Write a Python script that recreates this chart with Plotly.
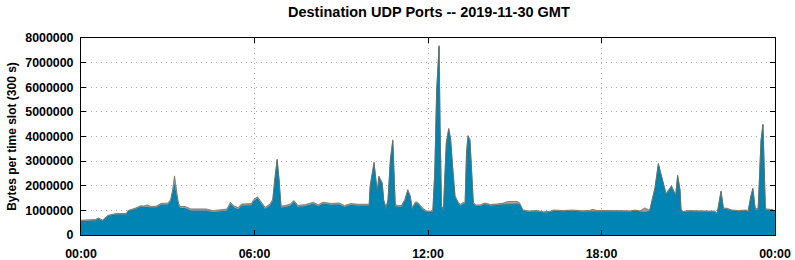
import pandas as pd
import plotly.graph_objects as go

# ---- data (bytes per 300 s slot) ----
times = ["00:00","00:30","00:36","00:45","00:56","01:06","01:12","01:34","01:38","01:54",
         "02:04","02:18","02:36","02:46","03:00","03:06","03:14","03:22","03:26","03:36",
         "03:48","04:03","04:20","04:34","04:50","05:03","05:10","05:18","05:26","05:33",
         "05:54","05:57","06:06","06:15","06:22","06:32","06:38","06:42","06:47","06:51",
         "06:55","07:05","07:14","07:22","07:30","07:45","08:02","08:12","08:22","08:40",
         "08:55","09:07","09:20","09:35","09:58","10:00","10:05","10:08","10:12","10:15",
         "10:18","10:21","10:25","10:28","10:33","10:37","10:42","10:47","10:49","10:52",
         "10:58","11:05","11:12","11:18","11:23","11:27","11:34","11:39","11:48","11:57",
         "12:10","12:14","12:18","12:23","12:25","12:28","12:32","12:35","12:38","12:43",
         "12:47","12:51","12:56","13:03","13:08","13:13","13:17","13:20","13:23","13:27",
         "13:30","13:34","13:40","13:48","13:58","14:10","14:22","14:30","15:10","15:17",
         "15:30","15:45","16:00","16:15","16:20","16:40","17:00","17:20","17:40","18:00",
         "18:20","18:40","19:00","19:10","19:20","19:30","19:40","19:51","19:58","20:04",
         "20:11","20:14","20:21","20:25","20:29","20:34","20:38","20:43","20:45","20:50",
         "21:00","21:20","21:40","21:55","22:00","22:05","22:08","22:13","22:20","22:30",
         "22:45","23:00","23:04","23:10","23:14","23:19","23:25","23:28","23:31","23:35",
         "23:38","23:40","23:50","23:57","24:00"]
main_bytes = [570000,600000,660000,580000,770000,800000,840000,840000,970000,1070000,
              1160000,1130000,1130000,1240000,1240000,1380000,2100000,1240000,1100000,1100000,
              1000000,990000,1000000,930000,980000,1000000,1270000,1120000,1050000,1200000,
              1220000,1350000,1500000,1250000,1070000,1200000,1400000,2200000,3030000,2200000,
              1120000,1150000,1200000,1350000,1150000,1180000,1280000,1170000,1280000,1230000,
              1250000,1150000,1230000,1200000,1200000,1960000,2630000,2910000,2200000,1730000,
              2350000,2250000,2080000,1400000,1060000,1400000,3050000,3820000,2800000,1180000,
              1150000,1150000,1400000,1800000,1560000,1060000,1300000,1280000,1060000,930000,
              930000,2500000,5850000,7650000,4400000,1150000,1000000,2200000,3700000,4290000,
              3850000,2750000,1550000,1280000,1200000,1280000,1270000,3330000,4000000,3850000,
              2900000,1280000,1180000,1180000,1260000,1200000,1220000,1250000,1250000,980000,
              940000,960000,910000,930000,980000,960000,980000,950000,970000,960000,
              980000,970000,950000,980000,950000,940000,970000,1900000,2880000,2400000,
              1850000,1650000,1850000,1970000,1800000,1600000,2400000,1800000,990000,930000,
              960000,950000,960000,940000,850000,1400000,1760000,1060000,1060000,990000,
              960000,990000,930000,1550000,1870000,1040000,1040000,2400000,3820000,4470000,
              2700000,1040000,1010000,990000,900000]

orange_times = ["00:00","14:35","14:45","15:05","15:12","17:35","17:42","17:50","24:00"]
orange_bytes = [0,0,40000,60000,0,0,40000,0,0]

green_times = ["00:00","14:35","14:45","15:00","15:10","24:00"]
green_bytes = [0,0,30000,20000,0,0]

other_times = ["00:00","02:10","02:18","02:25","03:10","03:14","03:18","19:20","19:30","19:40","24:00"]
other_bytes = [30000,30000,90000,30000,60000,300000,60000,30000,160000,30000,30000]

y_ticks = [0,1000000,2000000,3000000,4000000,5000000,6000000,7000000,8000000]
x_tick_labels = ["00:00","06:00","12:00","18:00","00:00"]

day = pd.Timestamp("2019-11-30")
def to_dt(ts):
    return list(day + pd.to_timedelta([t + ":00" for t in ts]))

x_ticks = list(day + pd.to_timedelta([f"{h}:00:00" for h in (0, 6, 12, 18, 24)]))

fig = go.Figure()
fig.add_trace(go.Scatter(x=to_dt(times), y=main_bytes, stackgroup="s", mode="lines",
                         line=dict(color="#0a6f92", width=0.8), fillcolor="#0084b4",
                         name="main", stackgaps="interpolate"))
fig.add_trace(go.Scatter(x=to_dt(green_times), y=green_bytes, stackgroup="s", mode="lines",
                         line=dict(color="#3a9a3a", width=0), fillcolor="#4aa84a",
                         name="green", stackgaps="interpolate"))
fig.add_trace(go.Scatter(x=to_dt(orange_times), y=orange_bytes, stackgroup="s", mode="lines",
                         line=dict(color="#d05010", width=0), fillcolor="#e0561a",
                         name="orange", stackgaps="interpolate"))
fig.add_trace(go.Scatter(x=to_dt(other_times), y=other_bytes, stackgroup="s", mode="lines",
                         line=dict(color="#6e6e5a", width=0.8), fillcolor="#9c9c96",
                         name="other", stackgaps="interpolate"))

font_family = "Liberation Sans, Arial, sans-serif"
fig.update_layout(
    width=795, height=260,
    margin=dict(l=81, r=20, t=38, b=25, autoexpand=False),
    paper_bgcolor="white", plot_bgcolor="white",
    showlegend=False,
    font=dict(family=font_family, size=12, color="black"),
    title=dict(text="<b>Destination UDP Ports -- 2019-11-30 GMT</b>",
               x=0.5395, xanchor="center", y=0.955, yanchor="middle",
               font=dict(size=14.5, family=font_family, color="black")),
)
fig.update_xaxes(
    range=[x_ticks[0], x_ticks[-1]], automargin=False,
    tickmode="array", tickvals=x_ticks, ticktext=[f"<b>{t}</b>" for t in x_tick_labels],
    ticks="inside", ticklen=5, tickcolor="black", ticklabelstandoff=7,
    showline=True, linecolor="black", linewidth=1, mirror="ticks",
    showgrid=True, gridcolor="#a8a8a8", griddash="1px,4px", gridwidth=1,
    zeroline=False, tickfont=dict(size=12.4, family=font_family),
)
fig.update_yaxes(
    range=[0, 8000000], automargin=False,
    tickmode="array", tickvals=y_ticks, ticktext=[f"<b>{v}</b>" for v in y_ticks],
    ticks="inside", ticklen=5, tickcolor="black", ticklabelstandoff=4,
    showline=True, linecolor="black", linewidth=1, mirror="ticks",
    showgrid=True, gridcolor="#a8a8a8", griddash="1px,4px", gridwidth=1,
    zeroline=False, tickfont=dict(size=12.4, family=font_family),
    title=dict(text="<b>Bytes per time slot (300 s)</b>", standoff=6,
               font=dict(size=12, family=font_family)),
)

fig.write_html("out.html")
